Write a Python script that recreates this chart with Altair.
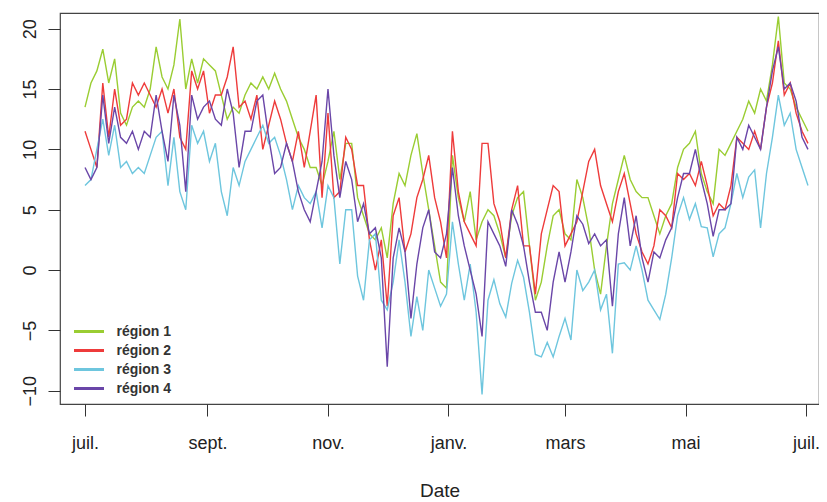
import json
import altair as alt
import pandas as pd

# ---- data (one value every 3 days from 1 July) ----
start_date = "2017-07-01"
step_days = 3
region_names = ["région 1", "région 2", "région 3", "région 4"]
region_colors = ["#9ACD32", "#EE3B3B", "#6EC6DE", "#6A46A8"]
month_labels = ["janv.", "févr.", "mars", "avr.", "mai", "juin",
                "juil.", "août", "sept.", "oct.", "nov.", "déc."]
y_ticks = [-10, -5, 0, 5, 10, 15, 20]

region1 = [13.5, 15.5, 16.5, 18.3, 15.5, 17.5, 13, 12, 13.5, 14,
           13.5, 15, 18.5, 16, 15, 17, 20.8, 15, 17.5, 15.5,
           17.5, 17, 16.5, 14.5, 12.5, 13.5, 13, 14.5, 15.5, 15,
           16, 15, 16.3, 15, 14, 12.5, 11, 10, 8.5, 8.5,
           7, 9, 11.5, 7.5, 10.5, 10.5, 6, 4.5, 3, 2.5,
           3.5, 1, 5.5, 8, 7, 9.5, 11.3, 8, 5, 2,
           -1, -1.5, 9.5, 6, 4, 6.5, 2.5, 4, 5, 4.5,
           3, 1, 4.5, 6, 6.5, 2, -2.5, -1, 2, 4.5,
           5, 3, 2.5, 7.5, 6, 3.5, 0, -2, 2, 5.5,
           7.5, 9.5, 7.5, 6.5, 6, 6, 4.5, 3, 4.5, 5.5,
           8.5, 10, 10.5, 11.5, 8, 6.5, 5.5, 10, 9.5, 10.5,
           11.5, 12.5, 14, 13, 15, 14, 17, 21, 15.5, 15,
           13.5, 12.5, 11.5]

region2 = [11.5, 10, 8.5, 15.5, 11, 15, 12, 12.5, 15.5, 14.5,
           15.5, 14.5, 13.5, 15, 13, 15, 11, 10, 16.5, 15,
           16.5, 13, 14.5, 14.5, 16, 18.5, 13.5, 14, 12.5, 14.5,
           10, 12, 14, 12.5, 10.5, 9, 11.5, 8.5, 11.5, 14.5,
           6, 13, 6, 6.5, 11, 10, 7, 7, 2.5, 0,
           2.5, -3, 4.5, 6, 1.5, 3, 6, 7.5, 9.5, 6,
           4, 1, 11.5, 6.5, 4, 3, 2, 10.5, 10.5, 5.5,
           4, 1, 5, 7, 2, 2, -2, 3, 5, 7,
           6.5, 2, 3, 4, 6.5, 9, 10, 7, 5.5, 4,
           6.5, 8, 5.5, 3, 1.5, 0.5, 2, 5, 4.5, 3.5,
           8, 7.5, 8, 7, 9, 7, 4.5, 5.5, 5, 7,
           11, 10.5, 10, 11.5, 10, 13.5, 15.5, 19, 14.5, 15.5,
           13, 11.5, 10.5]

region3 = [7, 7.5, 10, 12.5, 9.5, 12, 8.5, 9, 8, 8.5,
           8, 9.5, 11, 11.5, 7, 11, 6.5, 5, 12, 10.5,
           11.5, 9, 10.5, 6.5, 4.5, 8.5, 7, 9, 10, 11,
           12, 10.5, 11, 9.5, 7.5, 5, 7, 6, 5.5, 6.5,
           3.5, 7, 6, 0.5, 5, 5, -0.5, -2.5, 2.5, 3,
           -2.5, -3.3, -1, 2.5, -1, -5.5, -2.2, -5, 0, -1.5,
           -3, -2, 4, 0.5, -2.5, 0.5, -3.5, -10.3, -2.5, -0.8,
           -2.8, -3.9, -1.1, 0.8, -0.6, -3.5, -7, -7.2, -6, -7.2,
           -5.5, -4, -5.8, 0, -1.7, -1, 0, -3.3, -2, -6.9,
           0.5, 0.6, 0, 2, 0, -2.5, -3.3, -4.1, -2, 1,
           4.5, 6, 4.2, 5.5, 3.6, 3.5, 1.1, 3, 3.5, 5.5,
           8, 6, 7.7, 8.3, 3.5, 8, 11, 14.5, 12, 13,
           10, 8.5, 7]

region4 = [8.5, 7.5, 8.5, 14.5, 10.5, 13.5, 11, 10.5, 11.5, 10,
           11.5, 11, 14.5, 11.5, 9, 14.5, 12, 6.5, 14.5, 12.5,
           13.5, 14, 12.5, 12, 15, 13, 8.5, 11.5, 11.5, 14,
           14.5, 11, 8, 8.5, 10.5, 9, 6.5, 5, 4, 6.5,
           9, 15, 9.5, 6, 9, 7.5, 4, 5.5, 3, 3.5,
           1, -8, 1, 3.5, 1.5, -4, 0.5, 3.5, 5, 1.5,
           1, 3, 8.5, 4.5, 2, 0, -2, -5.5, 4, 3,
           2, 0.3, 5, 3.8, 2, -1, -3.5, -3.5, -5, -1,
           1.5, -1, 1.5, 4.5, 3.8, 2.2, 3, 2, 2.5, -3,
           3, 6, 2, 4.5, 1, -1, 1.5, 1, 2.5, 3.5,
           6, 8, 8, 10, 7.5, 5.5, 2.8, 5, 5, 5.5,
           11, 10, 12, 11, 10, 13.5, 16.5, 18.5, 15, 15.5,
           14, 11, 10]

series_values = [region1, region2, region3, region4]

dates = pd.date_range(start_date, periods=len(region1), freq=f"{step_days}D")
frames = [pd.DataFrame({"date": dates, "valeur": vals, "region": name})
          for name, vals in zip(region_names, series_values)]
df = pd.concat(frames, ignore_index=True)

FONT = "Liberation Sans"

x_ticks = [alt.DateTime(year=2017, month=7, date=1), alt.DateTime(year=2017, month=9, date=1),
           alt.DateTime(year=2017, month=11, date=1), alt.DateTime(year=2018, month=1, date=1),
           alt.DateTime(year=2018, month=3, date=1), alt.DateTime(year=2018, month=5, date=1),
           alt.DateTime(year=2018, month=7, date=1)]

label_expr = json.dumps(month_labels, ensure_ascii=False) + "[month(datum.value)]"

x_enc = alt.X(
    "date:T",
    scale=alt.Scale(domain=[alt.DateTime(year=2017, month=6, date=18, hours=8),
                            alt.DateTime(year=2018, month=7, date=7, hours=14)]),
    axis=alt.Axis(values=x_ticks, labelExpr=label_expr, title="Date",
                  labelBaseline="top", labelPadding=18, titlePadding=29,
                  labelAngle=0, labelFlush=False, labelOverlap=False),
)
y_enc = alt.Y(
    "valeur:Q",
    scale=alt.Scale(domain=[-11.1, 21.3], nice=False, zero=False),
    axis=alt.Axis(values=y_ticks, title=None, labelAngle=270, labelAlign="center",
                  labelBaseline="alphabetic", labelPadding=13, labelFlush=False,
                  labelOverlap=False),
)
color_enc = alt.Color(
    "region:N",
    scale=alt.Scale(domain=region_names, range=region_colors),
    legend=alt.Legend(title=None, orient="none", legendX=12.5, legendY=309,
                      symbolType="stroke", symbolSize=900, symbolStrokeWidth=3,
                      labelFont=FONT, labelFontSize=14, labelFontWeight="bold",
                      labelColor="#333333", labelOffset=11, rowPadding=0,
                      clipHeight=19, padding=0),
)

layers = []
for name in region_names:
    layers.append(
        alt.Chart(df)
        .transform_filter(alt.FieldEqualPredicate(field="region", equal=name))
        .mark_line(strokeWidth=1.4)
        .encode(x=x_enc, y=y_enc, color=color_enc)
    )

chart = (
    alt.layer(*layers)
    .properties(width=759, height=391,
                autosize=alt.AutoSizeParams(type="none"),
                padding={"left": 52, "top": 5, "right": 0, "bottom": 98})
    .configure_view(stroke="#444444", strokeWidth=1.2)
    .configure_axis(labelFont=FONT, labelFontSize=18, labelColor="#222222",
                    tickColor="#333333", tickSize=12, tickWidth=1,
                    domain=False, grid=False,
                    titleFont=FONT, titleFontSize=19, titleFontWeight="normal",
                    titleColor="#222222")
)

chart.save("out.html", embed_options={"renderer": "svg", "actions": False})
